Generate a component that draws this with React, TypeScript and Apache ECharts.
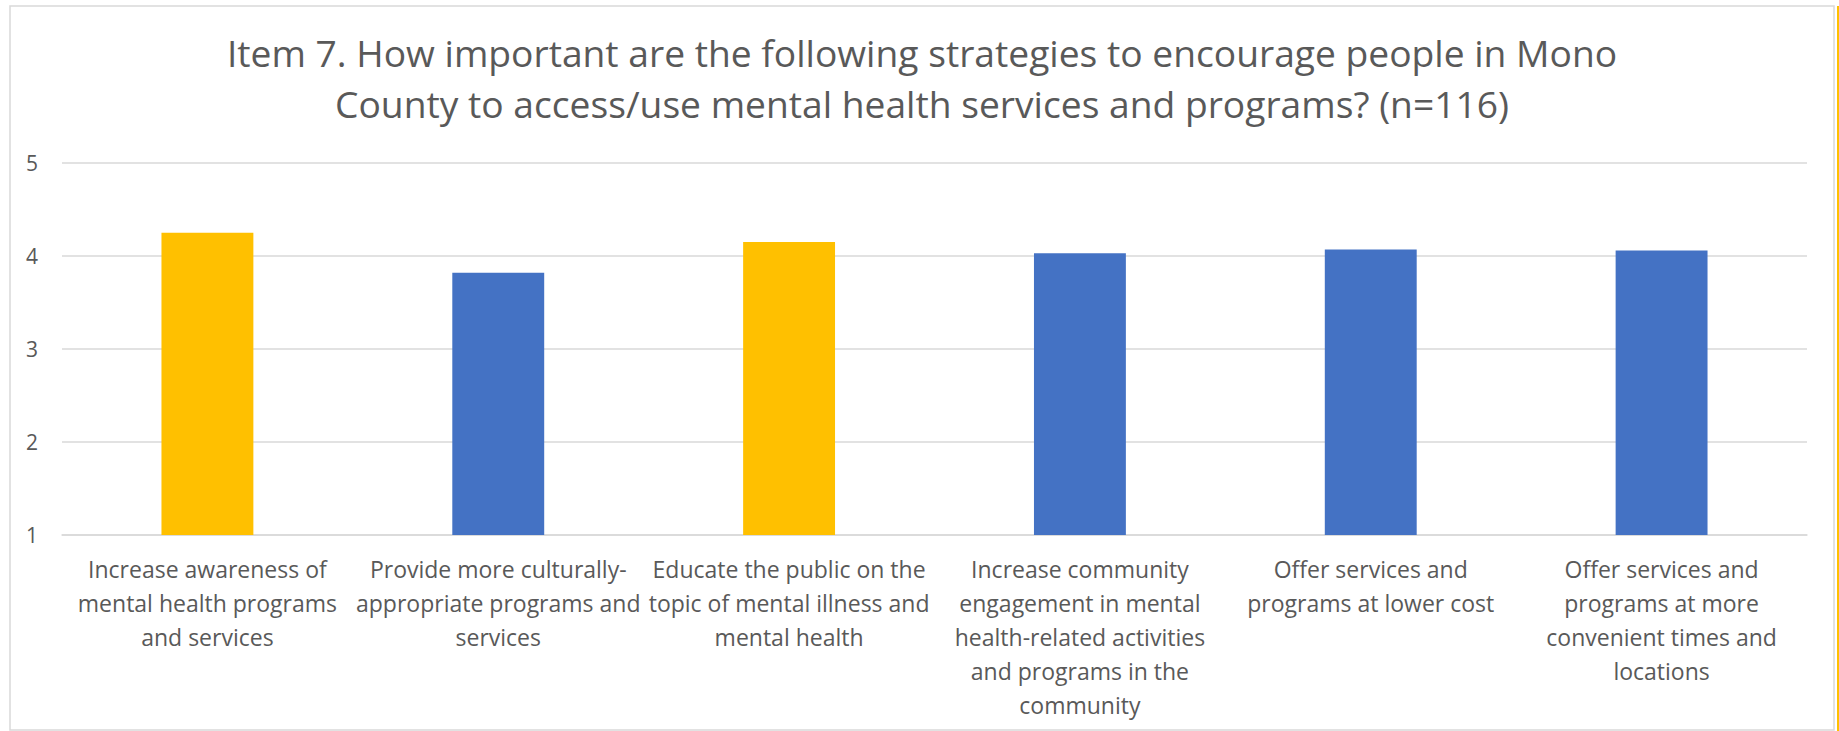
import React, { useEffect, useRef } from "react";
import * as echarts from "echarts";

const titleText =
  "Item 7. How important are the following strategies to encourage people in Mono\nCounty to access/use mental health services and programs? (n=116)";

const categories = [
  "Increase awareness of\nmental health programs\nand services",
  "Provide more culturally-\nappropriate programs and\nservices",
  "Educate the public on the\ntopic of mental illness and\nmental health",
  "Increase community\nengagement in mental\nhealth-related activities\nand programs in the\ncommunity",
  "Offer services and\nprograms at lower cost",
  "Offer services and\nprograms at more\nconvenient times and\nlocations",
];

const values = [4.25, 3.82, 4.15, 4.03, 4.07, 4.06];
const highlighted = [true, false, true, false, false, false];

const yMin = 1;
const yMax = 5;
const yInterval = 1;

const BLUE = "#4472C4";
const GOLD = "#FFC000";
const TEXT = "#595959";
const FONT = "'Open Sans', sans-serif";

export default function App() {
  const ref = useRef<HTMLDivElement>(null);

  useEffect(() => {
    if (!ref.current) return;
    const chart = echarts.init(ref.current, undefined, { renderer: "svg" });
    chart.setOption({
      animation: false,
      backgroundColor: "#ffffff",
      textStyle: { fontFamily: FONT },
      graphic: [
        {
          type: "rect",
          shape: { x: 10, y: 6, width: 1824, height: 724 },
          style: { fill: "none", stroke: "#d9d9d9", lineWidth: 1.5 },
          silent: true,
        },
        {
          type: "rect",
          shape: { x: 1837, y: 6, width: 3, height: 725 },
          style: { fill: GOLD },
          silent: true,
        },
        {
          type: "text",
          x: 922,
          y: 27,
          silent: true,
          style: {
            text: titleText,
            align: "center",
            verticalAlign: "top",
            fill: TEXT,
            fontSize: 37.2,
            fontFamily: FONT,
            lineHeight: 51,
          },
        },
      ],
      grid: { left: 62, right: 32, top: 163, bottom: 196, containLabel: false },
      xAxis: {
        type: "category",
        data: categories,
        axisLine: { show: true, lineStyle: { color: "#d9d9d9", width: 1.5 } },
        axisTick: { show: false },
        axisLabel: {
          interval: 0,
          color: TEXT,
          fontSize: 23,
          fontFamily: FONT,
          lineHeight: 34,
          margin: 17,
          align: "center",
        },
      },
      yAxis: {
        type: "value",
        min: yMin,
        max: yMax,
        interval: yInterval,
        axisLine: { show: false },
        axisTick: { show: false },
        splitLine: { lineStyle: { color: "#d9d9d9", width: 1.5 } },
        axisLabel: { color: TEXT, fontSize: 21, fontFamily: FONT, margin: 24 },
      },
      series: [
        {
          type: "bar",
          barWidth: "31.6%",
          data: values.map((v, i) => ({
            value: v,
            itemStyle: { color: highlighted[i] ? GOLD : BLUE },
          })),
        },
      ],
    });
    return () => chart.dispose();
  }, []);

  return (
    <div
      ref={ref}
      style={{ position: "fixed", left: 0, top: 0, width: 1839, height: 731 }}
    />
  );
}
